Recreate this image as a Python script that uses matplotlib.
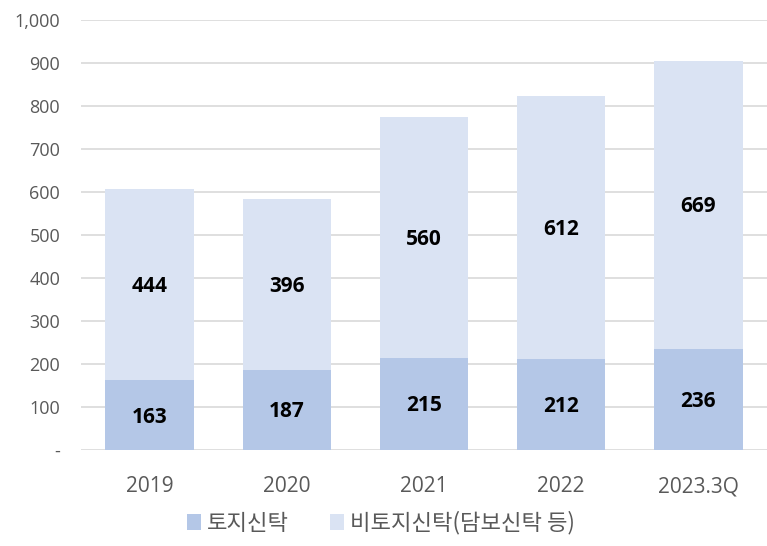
import numpy as np
import matplotlib
matplotlib.use('Agg')
import matplotlib.pyplot as plt
from matplotlib.ticker import FuncFormatter

plt.rcParams['font.family'] = ['Open Sans', 'Noto Sans CJK KR', 'DejaVu Sans']

years = ["2019", "2020", "2021", "2022", "2023.3Q"]
land_trust = [163, 187, 215, 212, 236]
non_land_trust = [444, 396, 560, 612, 669]
series_names = ["토지신탁", "비토지신탁(담보신탁 등)"]

c_land = '#b4c7e7'
c_other = '#dae3f3'
grey = '#595959'

fig = plt.figure(figsize=(7.67, 5.46), dpi=100)
ax = fig.add_axes([81 / 767, 1 - 450 / 546, 686 / 767, 430 / 546])

x = np.arange(len(years))
w = 0.645
b1 = ax.bar(x, land_trust, width=w, color=c_land, label=series_names[0], zorder=2)
b2 = ax.bar(x, non_land_trust, width=w, bottom=land_trust, color=c_other,
            label=series_names[1], zorder=2)

# value labels centred in each segment
for i in range(len(years)):
    ax.text(x[i], land_trust[i] / 2 - 5, str(land_trust[i]), ha='center', va='center',
            fontsize=15, fontweight='bold', color='black', zorder=3)
    ax.text(x[i], land_trust[i] + non_land_trust[i] / 2 - 5, str(non_land_trust[i]),
            ha='center', va='center', fontsize=15, fontweight='bold',
            color='black', zorder=3)

ax.set_xlim(-0.5, len(years) - 0.5)
ax.set_ylim(0, 1000)
ax.set_yticks(np.arange(0, 1001, 100))
ax.yaxis.set_major_formatter(FuncFormatter(lambda v, p: '-' if v == 0 else f'{int(v):,}'))
ax.set_xticks(x)
ax.set_xticklabels(years)
ax.tick_params(axis='both', length=0, colors=grey)
ax.tick_params(axis='x', pad=19, labelsize=15)
ax.tick_params(axis='y', pad=15, labelsize=13)
ax.grid(axis='y', color='#d9d9d9', linewidth=1.2, zorder=0)
for s in ax.spines.values():
    s.set_visible(False)

leg = fig.legend(handles=[b1, b2], loc='center', bbox_to_anchor=(381 / 767, 1 - 523 / 546),
                 ncol=2, frameon=False, fontsize=16, handlelength=0.63, handleheight=0.68,
                 handletextpad=0.27, columnspacing=1.85, borderpad=0.1)
for t in leg.get_texts():
    t.set_color(grey)
    t.set_family(['Noto Sans CJK KR', 'DejaVu Sans'])

fig.savefig('out.png', dpi=100)
